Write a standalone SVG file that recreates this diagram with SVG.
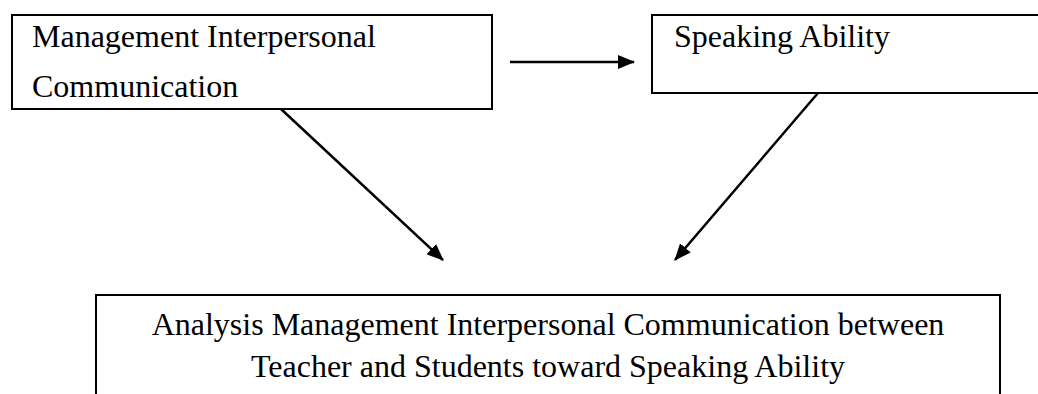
<svg xmlns="http://www.w3.org/2000/svg" width="1038" height="394" viewBox="0 0 1038 394">
  <style>
    .box { fill: #ffffff; stroke: #000000; stroke-width: 2; }
    .label { font-family: "Liberation Serif", "Times New Roman", serif; font-size: 32px; fill: #000000; }
    .mid { text-anchor: middle; }
    .link { stroke: #000000; stroke-width: 2.5; fill: none; marker-end: url(#head); }
  </style>
  <defs>
    <!-- solid triangular arrowhead, sized in user units -->
    <marker id="head" viewBox="0 0 17 14" refX="16" refY="7" markerWidth="17" markerHeight="14" markerUnits="userSpaceOnUse" orient="auto">
      <path d="M0,0 L17,7 L0,14 z" fill="#000000"/>
    </marker>
  </defs>

  <g id="node-management">
    <rect class="box" x="12" y="15" width="480" height="94"/>
    <text class="label" x="32" y="47">Management Interpersonal</text>
    <text class="label" x="32" y="97">Communication</text>
  </g>

  <g id="node-speaking">
    <rect class="box" x="652" y="15" width="400" height="78"/>
    <text class="label" x="674" y="47">Speaking Ability</text>
  </g>

  <g id="node-analysis">
    <rect class="box" x="96" y="295" width="904" height="120"/>
    <text class="label mid" x="548" y="335">Analysis Management Interpersonal Communication between</text>
    <text class="label mid" x="548" y="377">Teacher and Students toward Speaking Ability</text>
  </g>

  <g id="connectors">
    <line class="link" x1="510" y1="62" x2="634" y2="62"/>
    <line class="link" x1="281" y1="109" x2="443" y2="260"/>
    <line class="link" x1="818" y1="93" x2="675" y2="260"/>
  </g>
</svg>
